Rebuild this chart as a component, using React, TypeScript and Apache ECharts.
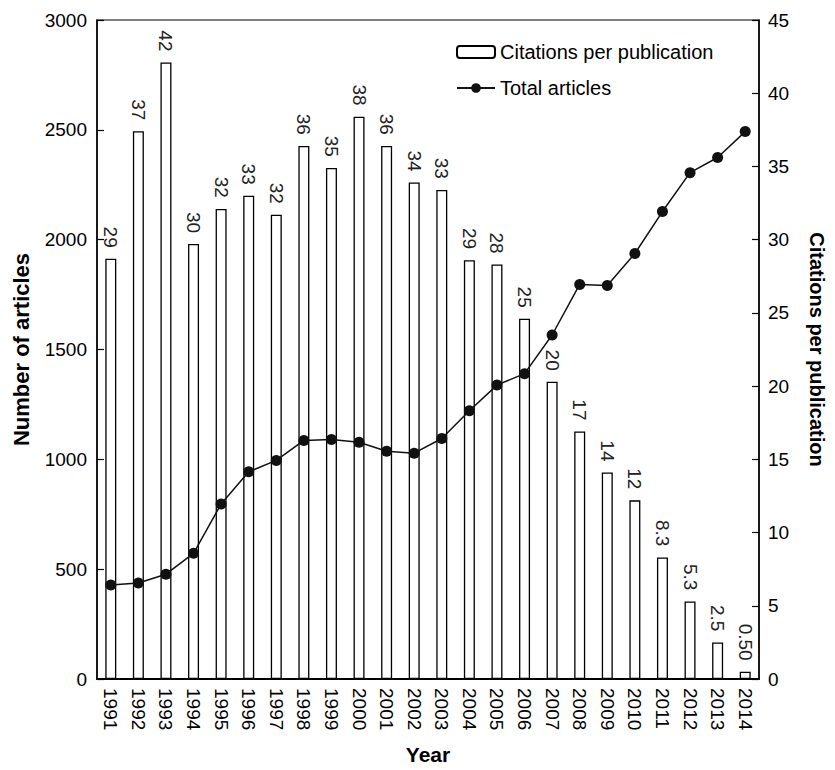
import React, { useEffect, useRef } from "react";
import * as echarts from "echarts";

const years = [
  "1991", "1992", "1993", "1994", "1995", "1996", "1997", "1998", "1999", "2000", "2001", "2002",
  "2003", "2004", "2005", "2006", "2007", "2008", "2009", "2010", "2011", "2012", "2013", "2014",
];

// Citations per publication (right axis)
const citationsPerPublication = [
  28.7, 37.4, 42.1, 29.7, 32.1, 33.0, 31.7, 36.4, 34.9, 38.4, 36.4, 33.9,
  33.4, 28.6, 28.3, 24.6, 20.3, 16.9, 14.1, 12.2, 8.3, 5.3, 2.5, 0.5,
];

// Total articles (left axis)
const totalArticles = [
  428, 437, 477, 572, 797, 943, 995, 1086, 1090, 1078, 1037, 1028,
  1095, 1221, 1338, 1390, 1566, 1796, 1791, 1937, 2128, 2305, 2374, 2492,
];

const leftTicks = { min: 0, max: 3000, interval: 500 };
const rightTicks = { min: 0, max: 45, interval: 5 };

const FONT = "'Liberation Sans', Arial, Helvetica, sans-serif";

export default function App() {
  const ref = useRef<HTMLDivElement>(null);

  useEffect(() => {
    if (!ref.current) return;
    const chart = echarts.init(ref.current, null, { renderer: "svg" });
    chart.setOption({
      animation: false,
      backgroundColor: "#fff",
      textStyle: { fontFamily: FONT, color: "#000" },
      grid: {
        left: 97,
        right: 66,
        top: 20,
        bottom: 84,
        show: true,
        borderColor: "#000",
        borderWidth: 1.2,
        backgroundColor: "transparent",
      },
      legend: {
        orient: "vertical",
        left: 451,
        top: 37,
        itemWidth: 38,
        itemHeight: 12,
        itemGap: 16,
        textStyle: { fontSize: 20, fontFamily: FONT, color: "#000" },
        data: [
          { name: "Citations per publication" },
          { name: "Total articles" },
        ],
      },
      xAxis: {
        type: "category",
        data: years,
        name: "Year",
        nameLocation: "middle",
        nameGap: 65,
        nameTextStyle: { fontSize: 21, fontWeight: "bold", fontFamily: FONT, color: "#000" },
        axisLine: { show: true, lineStyle: { color: "#000", width: 2 } },
        axisTick: { show: false },
        axisLabel: {
          rotate: -90,
          margin: 9,
          fontSize: 19,
          color: "#000",
          fontFamily: FONT,
          interval: 0,
        },
        splitLine: { show: false },
      },
      yAxis: [
        {
          type: "value",
          ...leftTicks,
          name: "Number of articles",
          nameLocation: "middle",
          nameGap: 65,
          nameRotate: 90,
          nameTextStyle: { fontSize: 22, fontWeight: "bold", fontFamily: FONT, color: "#000" },
          axisLine: { show: true, lineStyle: { color: "#000", width: 1.5 } },
          axisTick: { show: true, inside: true, length: 7, lineStyle: { color: "#000", width: 1.2 } },
          axisLabel: {
            fontSize: 19,
            color: "#000",
            margin: 10,
            fontFamily: FONT,
            formatter: (v: number) => String(v),
          },
          splitLine: { show: false },
        },
        {
          type: "value",
          ...rightTicks,
          position: "right",
          name: "Citations per publication",
          nameLocation: "middle",
          nameGap: 48,
          nameRotate: -90,
          nameTextStyle: { fontSize: 20, fontWeight: "bold", fontFamily: FONT, color: "#000" },
          axisLine: { show: true, lineStyle: { color: "#000", width: 1.5 } },
          axisTick: { show: true, inside: true, length: 7, lineStyle: { color: "#000", width: 1.2 } },
          axisLabel: { fontSize: 19, color: "#000", margin: 9, fontFamily: FONT },
          splitLine: { show: false },
        },
      ],
      series: [
        {
          name: "Citations per publication",
          type: "bar",
          yAxisIndex: 1,
          data: citationsPerPublication,
          barWidth: 11,
          itemStyle: { color: "#fff", borderColor: "#000", borderWidth: 1.3 },
          label: {
            show: true,
            position: "top",
            rotate: -90,
            align: "right",
            verticalAlign: "middle",
            distance: 11,
            fontSize: 19,
            color: "#222",
            fontFamily: FONT,
            formatter: (p: any) => Number(p.value).toPrecision(2),
          },
          z: 1,
        },
        {
          name: "Total articles",
          type: "line",
          yAxisIndex: 0,
          data: totalArticles,
          symbol: "circle",
          symbolSize: 11,
          color: "#111",
          lineStyle: { color: "#111", width: 1.5 },
          itemStyle: { color: "#111" },
          z: 3,
        },
      ],
    });
    return () => chart.dispose();
  }, []);

  return (
    <div
      ref={ref}
      style={{ position: "absolute", left: 0, top: 0, width: 835, height: 770 }}
    />
  );
}
